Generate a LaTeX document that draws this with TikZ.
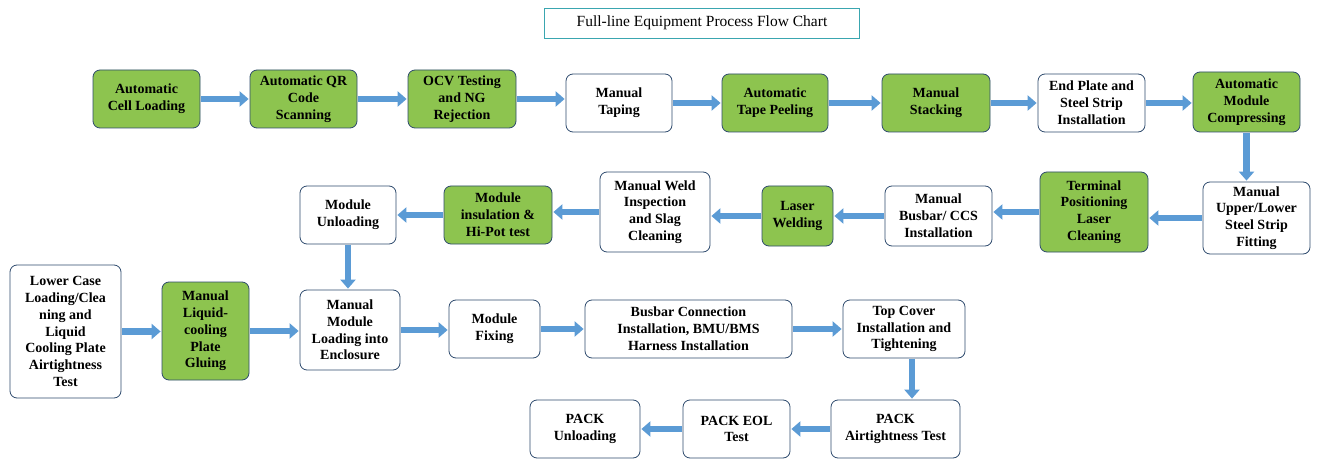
\documentclass[tikz,border=0pt]{standalone}
\usepackage{fontspec}
\setmainfont{Liberation Serif}
\usetikzlibrary{arrows.meta}
\definecolor{gfill}{HTML}{8DC44F}
\definecolor{ablue}{HTML}{5B9BD5}
\definecolor{bdr}{HTML}{2F4B6E}
\definecolor{teal}{HTML}{3AA6B0}
\tikzset{
 bx/.style={draw=bdr,line width=0.8pt,rounded corners=7pt,align=center,inner sep=1pt,
   font=\fontsize{14}{16.8}\selectfont\bfseries},
 gbox/.style={bx,fill=gfill},
 wbox/.style={bx,fill=white},
 flow/.style={draw=ablue,line width=6.5pt,-{Triangle[width=15pt,length=9pt]},shorten <=1pt,shorten >=1pt}
}
\newcommand{\bxx}[7]{\node[#2,minimum width={(#5-#3)*1pt},minimum height={(#6-#4)*1pt}] (#1) at ({(#3+#5)/2},{(#4+#6)/2}) {#7};}
\begin{document}
\begin{tikzpicture}[x=1pt,y=-1pt]
\useasboundingbox[fill=white] (0,0) rectangle (1332,473);
\node[draw=teal,line width=0.8pt,minimum width=315pt,minimum height=30pt,font=\fontsize{15.5}{18}\selectfont] (title) at (702,23) {Full-line Equipment Process Flow Chart};
\bxx{a1}{gbox}{93}{70}{200}{128}{Automatic\\Cell Loading}
\bxx{a2}{gbox}{250}{70}{357}{128}{Automatic QR\\Code\\Scanning}
\bxx{a3}{gbox}{408}{70}{516}{128}{OCV Testing\\and NG\\Rejection}
\bxx{a4}{wbox}{566}{74}{672}{132}{Manual\\Taping}
\bxx{a5}{gbox}{722}{74}{828}{132}{Automatic\\Tape Peeling}
\bxx{a6}{gbox}{882}{74}{990}{132}{Manual\\Stacking}
\bxx{a7}{wbox}{1038}{74}{1145}{132}{End Plate and\\Steel Strip\\Installation}
\bxx{a8}{gbox}{1193}{72}{1300}{132}{Automatic\\Module\\Compressing}
\bxx{b1}{wbox}{1203}{182}{1310}{254}{Manual\\Upper/Lower\\Steel Strip\\Fitting}
\bxx{b2}{gbox}{1040}{172}{1148}{252}{Terminal\\Positioning\\Laser\\Cleaning}
\bxx{b3}{wbox}{885}{186}{992}{246}{Manual\\Busbar/ CCS\\Installation}
\bxx{b4}{gbox}{762}{186}{833}{246}{Laser\\Welding}
\bxx{b5}{wbox}{600}{172}{710}{252}{Manual Weld\\Inspection\\and Slag\\Cleaning}
\bxx{b6}{gbox}{444}{186}{552}{244}{Module\\insulation \&\\Hi-Pot test}
\bxx{b7}{wbox}{300}{186}{396}{244}{Module\\Unloading}
\bxx{c1}{wbox}{10}{265}{121}{398}{Lower Case\\Loading/Clea\\ning and\\Liquid\\Cooling Plate\\Airtightness\\Test}
\bxx{c2}{gbox}{162}{282}{249}{380}{Manual\\Liquid-\\cooling\\Plate\\Gluing}
\bxx{c3}{wbox}{300}{290}{400}{370}{Manual\\Module\\Loading into\\Enclosure}
\bxx{c4}{wbox}{449}{300}{540}{358}{Module\\Fixing}
\bxx{c5}{wbox}{585}{300}{792}{358}{Busbar Connection\\Installation, BMU/BMS\\Harness Installation}
\bxx{c6}{wbox}{843}{300}{965}{358}{Top Cover\\Installation and\\Tightening}
\bxx{d1}{wbox}{831}{400}{960}{458}{PACK\\Airtightness Test}
\bxx{d2}{wbox}{683}{400}{790}{458}{PACK EOL\\Test}
\bxx{d3}{wbox}{530}{400}{640}{458}{PACK\\Unloading}
\foreach \p/\q in {a1/a2,a2/a3,a3/a4,a4/a5,a5/a6,a6/a7,a7/a8,c1/c2,c2/c3,c3/c4,c4/c5,c5/c6}
  \draw[flow] (\p.east) -- (\p.east -| \q.west);
\foreach \p/\q in {b1/b2,b2/b3,b3/b4,b4/b5,b5/b6,b6/b7,d1/d2,d2/d3}
  \draw[flow] (\p.west) -- (\p.west -| \q.east);
\draw[flow] (a8.south) -- (a8.south |- b1.north);
\draw[flow] (b7.south) -- (b7.south |- c3.north);
\draw[flow] ([xshift=8pt]c6.south) -- ([xshift=8pt]c6.south |- d1.north);
\end{tikzpicture}
\end{document}
